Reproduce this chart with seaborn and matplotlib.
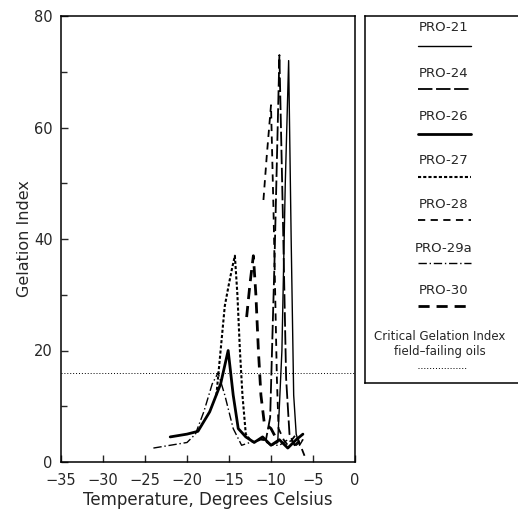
import matplotlib
matplotlib.use("Agg")
import matplotlib.pyplot as plt
import seaborn as sns
import pandas as pd
from matplotlib.lines import Line2D

sns.set_style("ticks")
plt.rcParams['font.family'] = ['DejaVu Sans']

# ---- data ----
pro21_t = [-10.0, -9.2, -8.7, -8.3, -7.9, -7.6, -7.3, -7.0, -6.6, -6.2]
pro21_g = [3.0, 3.5, 20.0, 50.0, 72.0, 40.0, 12.0, 5.0, 3.0, 4.0]

pro24_t = [-11.5, -10.6, -10.1, -9.6, -9.0, -8.6, -8.2, -7.8, -7.2, -6.5]
pro24_g = [4.0, 4.0, 8.0, 35.0, 73.0, 45.0, 15.0, 5.0, 3.0, 4.0]

pro26_t = [-22.0, -20.0, -18.7, -17.3, -16.0, -15.1, -14.5, -13.9, -13.0, -12.0, -11.0, -10.0, -9.0, -8.0, -7.0, -6.2]
pro26_g = [4.5, 5.0, 5.5, 9.0, 14.0, 20.0, 12.0, 6.0, 4.5, 3.5, 4.5, 3.0, 4.0, 2.5, 4.0, 5.0]

pro27_t = [-16.5, -16.0, -15.5, -15.0, -14.6, -14.3, -14.0, -13.7, -13.4, -13.0, -12.5, -12.0]
pro27_g = [12.0, 20.0, 28.0, 32.0, 35.0, 37.0, 30.0, 20.0, 12.0, 5.0, 4.0, 3.5]

pro28_t = [-10.9, -10.5, -10.0, -9.7, -9.5, -9.3, -9.1, -8.5, -8.0, -7.5, -7.0, -6.5, -5.9]
pro28_g = [47.0, 55.0, 64.0, 45.0, 30.0, 15.0, 6.0, 4.0, 3.0, 4.0, 5.0, 3.0, 0.7]

pro29a_t = [-24.0, -22.0, -20.0, -19.0, -18.0, -17.0, -16.3, -15.5, -14.5, -13.5, -12.5, -11.0, -10.0, -9.0, -8.0, -7.0, -6.2]
pro29a_g = [2.5, 3.0, 3.5, 5.0, 9.0, 14.0, 16.0, 12.0, 6.0, 3.0, 3.5, 4.0, 3.0, 3.0, 4.0, 3.0, 4.0]

pro30_t = [-12.9, -12.5, -12.1, -11.8, -11.5, -11.2, -10.8, -10.0, -9.3]
pro30_g = [26.0, 32.0, 37.0, 30.0, 20.0, 12.0, 7.0, 6.0, 4.0]

critical_t = [-35.0, 0.0]
critical_g = [16.0, 16.0]

labels = ["PRO-21", "PRO-24", "PRO-26", "PRO-27", "PRO-28", "PRO-29a", "PRO-30"]
x_ticks = [-35, -30, -25, -20, -15, -10, -5, 0]
y_ticks = [0, 20, 40, 60, 80]

series = [
    (pro21_t, pro21_g), (pro24_t, pro24_g), (pro26_t, pro26_g), (pro27_t, pro27_g),
    (pro28_t, pro28_g), (pro29a_t, pro29a_g), (pro30_t, pro30_g),
]
styles = [
    dict(lw=1.0, dashes=None),
    dict(lw=1.3, dashes=(8, 2)),
    dict(lw=2.0, dashes=None),
    dict(lw=1.5, dashes=(1.5, 1)),
    dict(lw=1.3, dashes=(4, 3)),
    dict(lw=1.0, dashes=(6, 2, 1, 2)),
    dict(lw=2.0, dashes=(4, 2.5)),
]

fig = plt.figure(figsize=(5.18, 5.15), dpi=100)
ax = fig.add_axes([61/518, 53/515, 294/518, 446/515])

for (t, g), lab, st in zip(series, labels, styles):
    df = pd.DataFrame({"T": t, "G": g})
    sns.lineplot(data=df, x="T", y="G", ax=ax, color="black", lw=st["lw"], sort=False,
                 estimator=None, legend=False)
    line = ax.lines[-1]
    if st["dashes"] is not None:
        line.set_dashes(st["dashes"])

dfc = pd.DataFrame({"T": critical_t, "G": critical_g})
sns.lineplot(data=dfc, x="T", y="G", ax=ax, color="black", lw=0.7, sort=False,
             estimator=None, legend=False)
ax.lines[-1].set_dashes((1, 2))

ax.set_xlim(-35, 0)
ax.set_ylim(0, 80)
ax.set_xticks(x_ticks)
ax.set_yticks(y_ticks)
ax.set_yticks([10, 30, 50, 70], minor=True)
ax.tick_params(axis="both", which="both", direction="in", labelsize=10.5, length=5, width=1)
ax.tick_params(axis="x", pad=8)
ax.tick_params(axis="y", pad=6)
ax.tick_params(axis="y", which="minor", length=4)
ax.tick_params(top=False, right=False)
for s in ax.spines.values():
    s.set_linewidth(1.1)
    s.set_color("black")
ax.set_xlabel("Temperature, Degrees Celsius", fontsize=12)
ax.set_ylabel("Gelation Index", fontsize=11.5)
ax.xaxis.set_label_coords(0.5, -0.065)
ax.yaxis.set_label_coords(-0.1, 0.5)

# ---- custom legend box ----
lax = fig.add_axes([365/518, 132/515, 0.32, 367/515])
lax.set_xlim(0, 1)
lax.set_ylim(0, 1)
lax.set_xticks([])
lax.set_yticks([])
for s in lax.spines.values():
    s.set_linewidth(1.1)
    s.set_color("black")

def fy(py):
    return (383 - py) / 367.0

def fx(px):
    return (px - 365) / (0.32 * 518)

text_y = [27, 73, 117, 160, 205, 248, 290]
line_y = [46, 89, 134, 177, 220, 263, 306]
for lab, ty, ly, st in zip(labels, text_y, line_y, styles):
    lax.text(fx(444), fy(ty), lab, ha="center", va="center", fontsize=9.5)
    ln = Line2D([fx(418), fx(471)], [fy(ly), fy(ly)], color="black", lw=st["lw"])
    if st["dashes"] is not None:
        ln.set_dashes(st["dashes"])
    lax.add_line(ln)

lax.text(fx(440), fy(337), "Critical Gelation Index", ha="center", va="center", fontsize=8.5)
lax.text(fx(440), fy(352), "field\u2013failing oils", ha="center", va="center", fontsize=8.5)
ln = Line2D([fx(418), fx(466)], [fy(368), fy(368)], color="black", lw=0.7)
ln.set_dashes((1, 2))
lax.add_line(ln)

fig.savefig("out.png", dpi=100)
